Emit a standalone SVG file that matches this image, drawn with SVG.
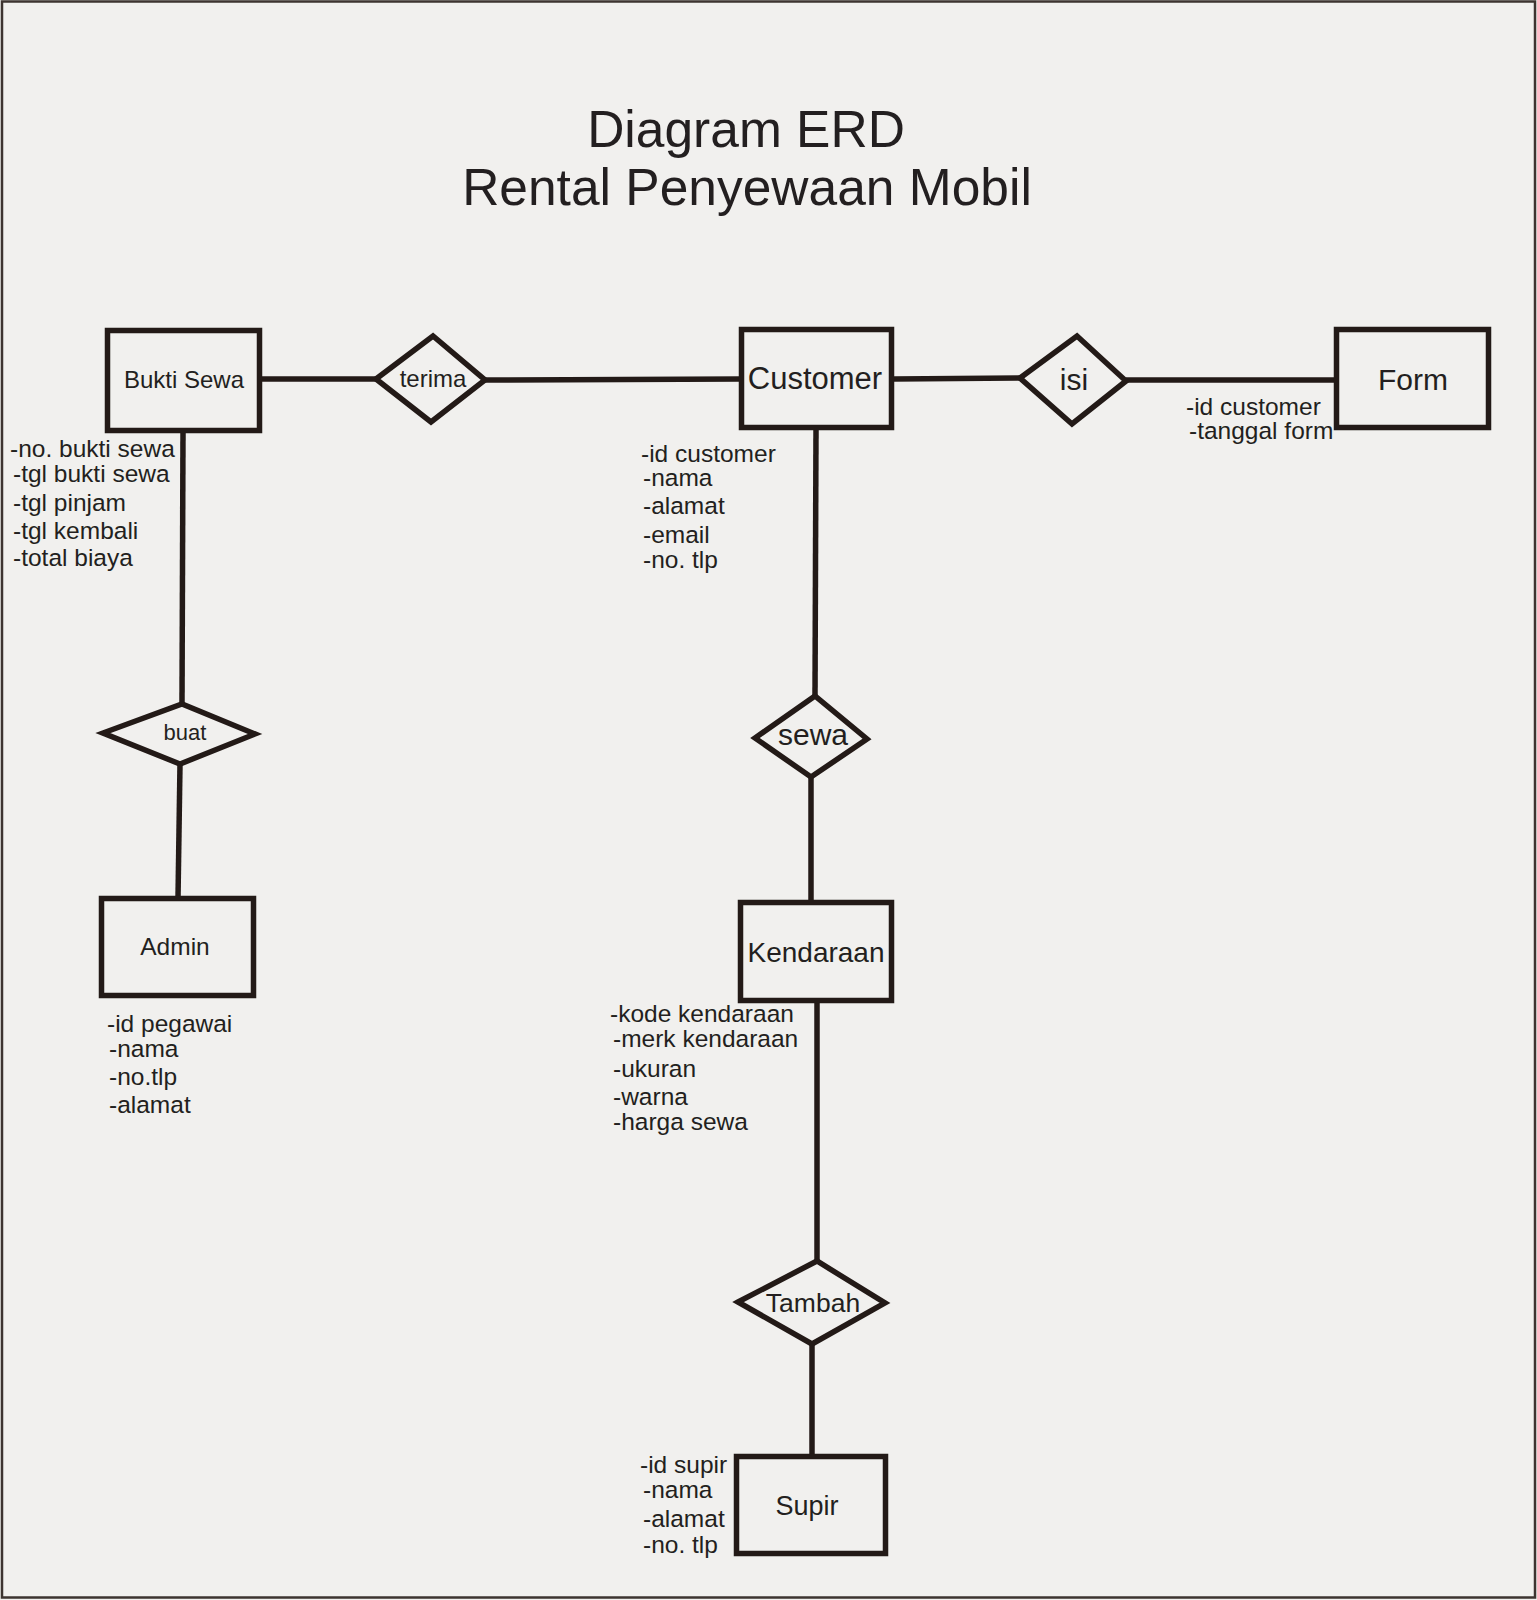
<svg xmlns="http://www.w3.org/2000/svg" width="1537" height="1600" viewBox="0 0 1537 1600">
<style>
.bg{fill:#f1f0ee}
.frame{fill:none;stroke:#3d3430;stroke-width:2.5}
.ent{fill:#f1f0ee;stroke:#231a17;stroke-width:5.5}
.rel{fill:#f1f0ee;stroke:#231a17;stroke-width:5.5;stroke-linejoin:miter}
.con line{stroke:#231a17;stroke-width:5.5}
text{font-family:"Liberation Sans",Arial,sans-serif;fill:#231f20}
.lbl{text-anchor:middle}
.attr{font-size:24.5px}
.title{font-size:51.5px;text-anchor:middle}
</style>
<rect class="bg" x="0" y="0" width="1537" height="1600"/>
<rect class="frame" x="2" y="1.5" width="1533" height="1596"/>

<g id="title">
<text class="title" x="746" y="147">Diagram ERD</text>
<text class="title" x="747" y="205">Rental Penyewaan Mobil</text>
</g>

<g id="connectors" class="con">
<line x1="262" y1="379" x2="377" y2="379"/>
<line x1="485" y1="380" x2="741" y2="379"/>
<line x1="894" y1="379" x2="1020" y2="378"/>
<line x1="1126" y1="380" x2="1336" y2="380"/>
<line x1="183" y1="433" x2="182" y2="704"/>
<line x1="180" y1="764" x2="178" y2="898"/>
<line x1="816" y1="430" x2="815" y2="696"/>
<line x1="811" y1="777" x2="811" y2="902"/>
<line x1="817" y1="1003" x2="817" y2="1261"/>
<line x1="812" y1="1344" x2="812" y2="1456"/>
</g>

<g id="bukti-sewa">
<rect class="ent" x="107.5" y="330.5" width="152" height="100"/>
<text class="lbl" x="184" y="388" font-size="24">Bukti Sewa</text>
<text class="attr" x="10" y="457">-no. bukti sewa</text>
<text class="attr" x="13" y="482">-tgl bukti sewa</text>
<text class="attr" x="13" y="511">-tgl pinjam</text>
<text class="attr" x="13" y="539">-tgl kembali</text>
<text class="attr" x="13" y="566">-total biaya</text>
</g>

<g id="terima">
<polygon class="rel" points="376,379 433,336 485,380 431,422"/>
<text class="lbl" x="433" y="387" font-size="24">terima</text>
</g>

<g id="customer">
<rect class="ent" x="741.5" y="329.5" width="150" height="98"/>
<text class="lbl" x="815" y="389" font-size="31">Customer</text>
<text class="attr" x="641" y="462">-id customer</text>
<text class="attr" x="643" y="486">-nama</text>
<text class="attr" x="643" y="514">-alamat</text>
<text class="attr" x="643" y="543">-email</text>
<text class="attr" x="643" y="568">-no. tlp</text>
</g>

<g id="isi">
<polygon class="rel" points="1020,378 1077,336 1126,381 1072,424"/>
<text class="lbl" x="1074" y="390" font-size="30">isi</text>
</g>

<g id="form">
<rect class="ent" x="1336.5" y="329.5" width="152" height="98"/>
<text class="lbl" x="1413" y="390" font-size="30">Form</text>
<text class="attr" x="1186" y="415">-id customer</text>
<text class="attr" x="1189" y="439">-tanggal form</text>
</g>

<g id="buat">
<polygon class="rel" points="103,733 182,704 255,734 180,764"/>
<text class="lbl" x="185" y="740" font-size="22">buat</text>
</g>

<g id="admin">
<rect class="ent" x="101.5" y="898.5" width="152" height="97"/>
<text class="lbl" x="175" y="955" font-size="24.5">Admin</text>
<text class="attr" x="107" y="1032">-id pegawai</text>
<text class="attr" x="109" y="1057">-nama</text>
<text class="attr" x="109" y="1085">-no.tlp</text>
<text class="attr" x="109" y="1113">-alamat</text>
</g>

<g id="sewa">
<polygon class="rel" points="755,738 815,696 867,739 811,777"/>
<text class="lbl" x="813" y="745" font-size="30">sewa</text>
</g>

<g id="kendaraan">
<rect class="ent" x="740.5" y="902.5" width="151" height="98"/>
<text class="lbl" x="816" y="962" font-size="28">Kendaraan</text>
<text class="attr" x="610" y="1022">-kode kendaraan</text>
<text class="attr" x="613" y="1047">-merk kendaraan</text>
<text class="attr" x="613" y="1077">-ukuran</text>
<text class="attr" x="613" y="1105">-warna</text>
<text class="attr" x="613" y="1130">-harga sewa</text>
</g>

<g id="tambah">
<polygon class="rel" points="738,1302 817,1261 885,1303 812,1344"/>
<text class="lbl" x="813" y="1312" font-size="26.5">Tambah</text>
</g>

<g id="supir">
<rect class="ent" x="736.5" y="1456.5" width="149" height="97"/>
<text class="lbl" x="807" y="1515" font-size="27">Supir</text>
<text class="attr" x="640" y="1473">-id supir</text>
<text class="attr" x="643" y="1498">-nama</text>
<text class="attr" x="643" y="1527">-alamat</text>
<text class="attr" x="643" y="1553">-no. tlp</text>
</g>
</svg>
